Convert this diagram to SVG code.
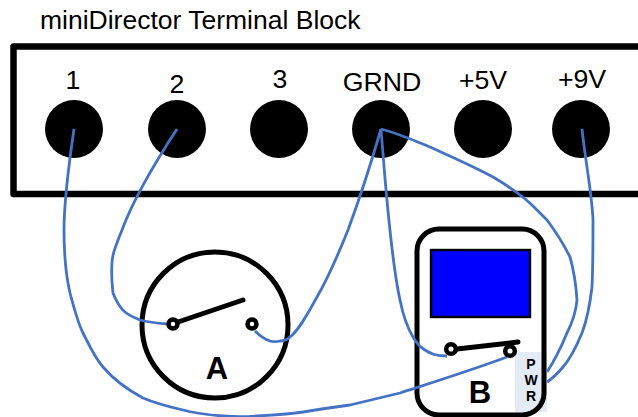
<svg xmlns="http://www.w3.org/2000/svg" width="638" height="417" viewBox="0 0 638 417">
<style>
text{font-family:"Liberation Sans",Arial,sans-serif;fill:#000}
.lab{font-size:26.7px;text-anchor:middle}
.big{font-size:31px;font-weight:bold;text-anchor:middle}
.pw{font-size:14px;font-weight:bold;text-anchor:middle}
.t{fill:#000}
.o{fill:#fff;stroke:#000;stroke-width:4.5}
.arm{fill:none;stroke:#000;stroke-width:5;stroke-linecap:round}
.w{fill:none;stroke:#4472C4;stroke-width:2.8;stroke-linejoin:round}
</style>
<rect width="638" height="417" fill="#fff"/>
<g id="terminal-block">
<path d="M638 46.5H13.5V194H638" fill="none" stroke="#000" stroke-width="6.5" stroke-linejoin="round"/>
<text x="40" y="29" font-size="26.5">miniDirector Terminal Block</text>
</g>
<g id="t1"><circle class="t" cx="74" cy="129" r="29"/><text class="lab" x="73" y="89">1</text></g>
<g id="t2"><circle class="t" cx="177" cy="129" r="29"/><text class="lab" x="177" y="93">2</text></g>
<g id="t3"><circle class="t" cx="279" cy="129" r="29"/><text class="lab" x="280" y="88">3</text></g>
<g id="tgrnd"><circle class="t" cx="381" cy="129" r="29"/><text class="lab" x="382" y="91">GRND</text></g>
<g id="t5v"><circle class="t" cx="483" cy="129" r="29"/><text class="lab" x="483" y="89">+5V</text></g>
<g id="t9v"><circle class="t" cx="581" cy="129" r="29"/><text class="lab" x="582" y="88">+9V</text></g>
<g id="switch-a">
<circle cx="215" cy="325" r="73" fill="#fff" stroke="#000" stroke-width="5"/>
<text class="big" x="217" y="379">A</text>
</g>
<g id="meter-b">
<rect x="417" y="229" width="127" height="186" rx="22" fill="#fff"/>
<rect x="515" y="352" width="32" height="60" fill="#E4EBF5"/>
<rect x="417" y="229" width="127" height="186" rx="22" fill="none" stroke="#000" stroke-width="5"/>
<rect x="431" y="250" width="99" height="67" fill="#0000ff" stroke="#000" stroke-width="2.4"/>
<text class="big" x="480" y="403">B</text>
<text class="pw" x="531" y="369">P</text>
<text class="pw" x="531" y="385">W</text>
<text class="pw" x="531" y="401">R</text>
</g>
<g id="connectors">
<path class="w" d="M74 129C68 170 64 205 64 230C64 262 67 280 70 293C75 312 78 323 83 333C90 347 95 358 103 367C115 381 128 390 143 398C157 404 170 407 183 410C198 414 210 415 223 416C235 417 246 417 257 416C275 415 289 414 303 412C320 409 335 407 350 405C367 401 383 397 400 393C437 381 472 370 507 357"/>
<path class="w" d="M177 129C160 155 135 195 122 230C116 245 112 255 112 263C111 275 112 284 113 293C117 303 120 308 125 312C130 316 135 318 140 320C148 322 156 323 167 324"/>
<path class="w" d="M381 129C372 160 361 195 348 230C338 255 328 278 317 297C309 311 300 329 290 337C286 341 283 341 280 341C276 342 273 342 270 341C264 339 260 336 255 331"/>
<path class="w" d="M381 129C384 165 390 255 400 300C403 315 407 327 413 337C417 344 420 347 425 350C431 354 436 356 447 356"/>
<path class="w" d="M381 129C400 134 415 141 430 147C452 157 473 166 493 177C510 187 525 197 537 210C541 214 544 217 547 220C556 232 564 245 570 257C574 271 576 285 577 300C576 312 572 323 567 333C562 345 555 360 547 372"/>
<path class="w" d="M582 129C586 165 592 195 593 220C593 245 593 265 592 287C590 304 587 320 582 333C577 345 571 358 563 367C558 373 553 378 547 382"/>
</g>
<g id="switch-a-contacts">
<path class="arm" d="M178 322L243 300"/>
<circle class="o" cx="173" cy="324" r="4.5"/>
<circle class="o" cx="252" cy="324" r="4.5"/>
</g>
<g id="meter-b-contacts">
<path class="arm" d="M457 349L518 342"/>
<circle class="o" cx="451" cy="349" r="4.8"/>
<circle class="o" cx="510" cy="351" r="4.8"/>
</g>
</svg>
